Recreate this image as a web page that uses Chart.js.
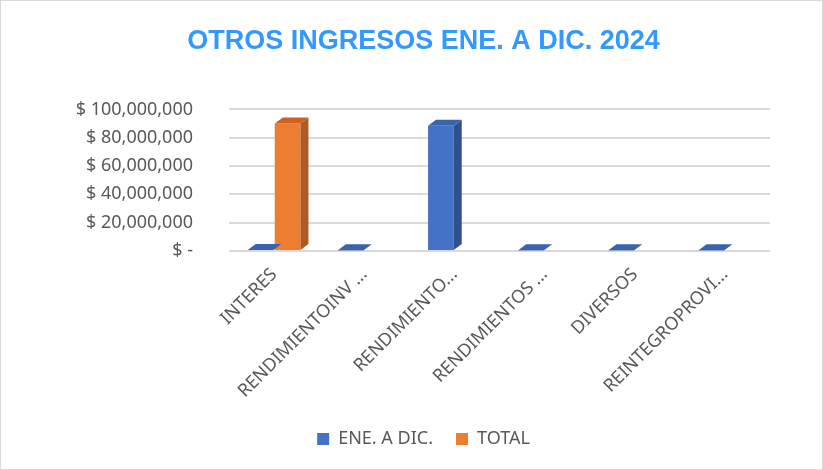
<!DOCTYPE html>
<html>
<head>
<meta charset="utf-8">
<script src="https://cdn.jsdelivr.net/npm/chart.js@4.4.1/dist/chart.umd.min.js"></script>
<style>
  html, body { margin: 0; padding: 0; background: #fff; }
  #wrap { width: 821px; height: 468px; border: 1px solid #d9d9d9; }
</style>
</head>
<body>
<div id="wrap"><canvas id="otros-ingresos-canvas" width="821" height="468"></canvas></div>
<script>
var categorias = ['INTERES', 'RENDIMIENTOINV ...', 'RENDIMIENTO...', 'RENDIMIENTOS ...', 'DIVERSOS', 'REINTEGROPROVI...']
var ene_dic = [600000, 500000, 88500000, 400000, 500000, 500000]
var total = [90000000, null, null, null, null, null]
var y_ticks = [0, 20000000, 40000000, 60000000, 80000000, 100000000]

// caras laterales para imitar barras 3D
var barras3d = {
  id: 'barras3d',
  afterDatasetsDraw: function (chart) {
    var ctx = chart.ctx
    var dx = 8, dy = 6
    chart.data.datasets.forEach(function (ds, i) {
      var meta = chart.getDatasetMeta(i)
      meta.data.forEach(function (bar, j) {
        if (ds.data[j] == null) return
        var p = bar.getProps(['x', 'y', 'base', 'width'], true)
        var l = p.x - p.width / 2, r = p.x + p.width / 2
        ctx.save()
        ctx.fillStyle = ds.sideColor
        ctx.beginPath()
        ctx.moveTo(r, p.y)
        ctx.lineTo(r + dx, p.y - dy)
        ctx.lineTo(r + dx, p.base - dy)
        ctx.lineTo(r, p.base)
        ctx.closePath()
        ctx.fill()
        ctx.fillStyle = ds.topColor
        ctx.beginPath()
        ctx.moveTo(l, p.y)
        ctx.lineTo(l + dx, p.y - dy)
        ctx.lineTo(r + dx, p.y - dy)
        ctx.lineTo(r, p.y)
        ctx.closePath()
        ctx.fill()
        ctx.restore()
      })
    })
  }
}

var ingresosCanvas = document.getElementById('otros-ingresos-canvas').getContext('2d')
var ingresosChart = new Chart(ingresosCanvas, {
  type: 'bar',
  data: {
    labels: categorias,
    datasets: [
      {
        label: 'ENE. A DIC.',
        backgroundColor: '#4472c4',
        sideColor: '#2f528f',
        topColor: '#3a63ad',
        data: ene_dic
      },
      {
        label: 'TOTAL',
        backgroundColor: '#ed7d31',
        sideColor: '#ae5a21',
        topColor: '#c9631f',
        data: total
      }
    ]
  },
  options: {
    responsive: false,
    animation: false,
    layout: { padding: { left: 76, right: 52, top: 4, bottom: 11 } },
    datasets: { bar: { categoryPercentage: 0.6, barPercentage: 0.95 } },
    scales: {
      x: {
        grid: { display: false },
        border: { display: false },
        afterFit: function (axis) {
          axis.paddingLeft = 0
          axis.paddingRight = 0
        },
        ticks: {
          minRotation: 45,
          maxRotation: 45,
          color: '#595959',
          padding: 5,
          font: { family: 'Noto Sans', size: 18 }
        }
      },
      y: {
        min: 0,
        max: 100000000,
        afterBuildTicks: function (axis) {
          axis.ticks = y_ticks.map(function (v) { return { value: v } })
        },
        afterFit: function (axis) {
          axis.width = 152
        },
        grid: { color: '#d9d9d9', lineWidth: 2, drawTicks: false },
        border: { display: false },
        ticks: {
          color: '#595959',
          padding: 36,
          font: { family: 'Noto Sans', size: 18 },
          callback: function (v) {
            return v === 0 ? '$ -' : '$ ' + v.toLocaleString('en-US')
          }
        }
      }
    },
    plugins: {
      title: {
        display: true,
        text: 'OTROS INGRESOS ENE. A DIC. 2024',
        color: '#3399ff',
        font: { family: 'Liberation Sans', size: 27, weight: 'bold' },
        padding: { top: 20, bottom: 52 }
      },
      legend: {
        position: 'bottom',
        labels: {
          color: '#595959',
          boxWidth: 12,
          boxHeight: 12,
          padding: 23,
          font: { family: 'Noto Sans', size: 18 }
        }
      },
      tooltip: { enabled: false }
    }
  },
  plugins: [barras3d]
})
</script>
</body>
</html>
